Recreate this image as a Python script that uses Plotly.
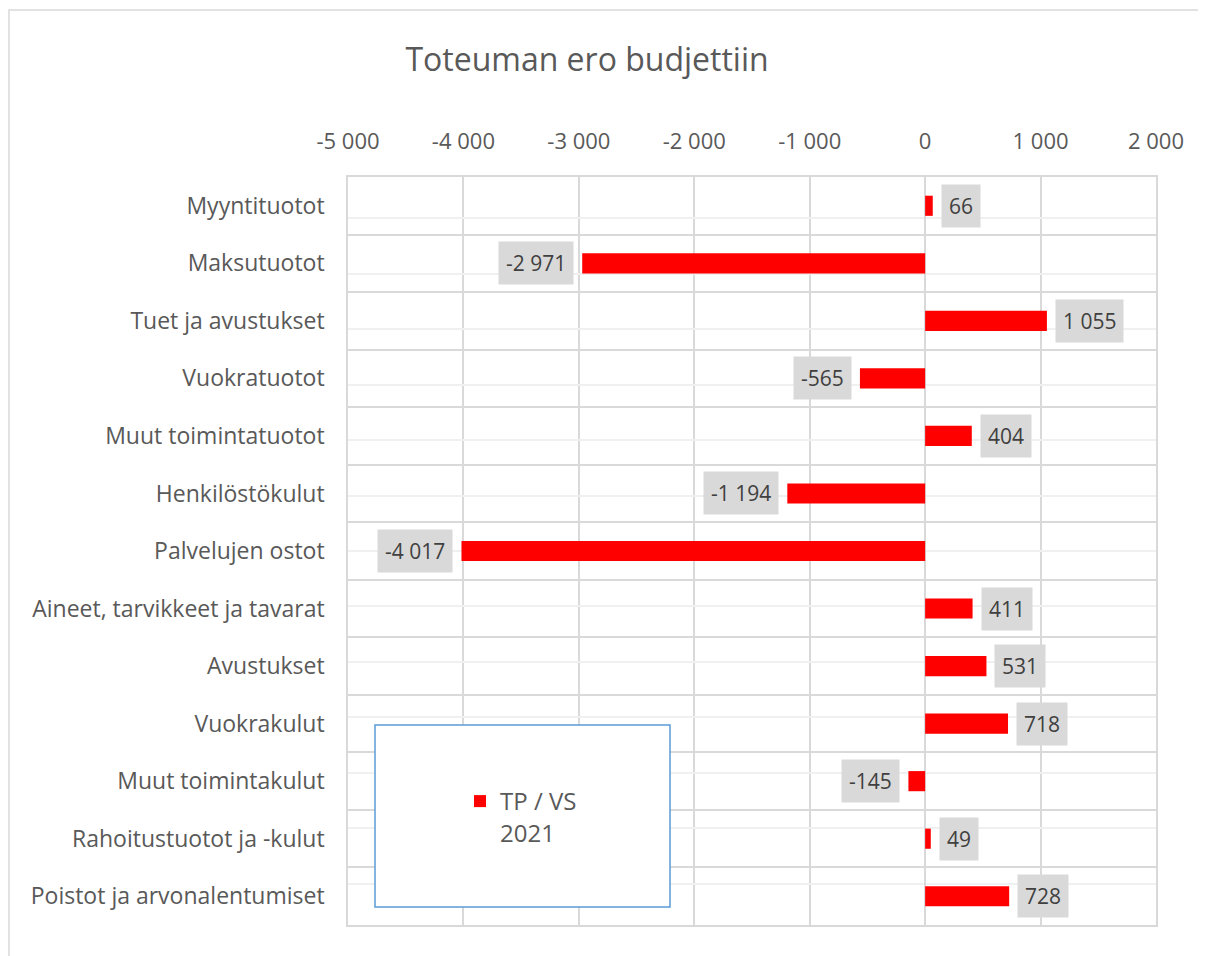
import plotly.graph_objects as go

# ── data ───────────────────────────────────────────────────────────
categories = [
    "Myyntituotot", "Maksutuotot", "Tuet ja avustukset", "Vuokratuotot",
    "Muut toimintatuotot", "Henkilöstökulut", "Palvelujen ostot",
    "Aineet, tarvikkeet ja tavarat", "Avustukset", "Vuokrakulut",
    "Muut toimintakulut", "Rahoitustuotot ja -kulut",
    "Poistot ja arvonalentumiset",
]
values = [66, -2971, 1055, -565, 404, -1194, -4017, 411, 531, 718, -145, 49, 728]
series_name = "TP / VS<br>2021"
tick_vals = [-5000, -4000, -3000, -2000, -1000, 0, 1000, 2000]
tick_text = ["-5 000", "-4 000", "-3 000", "-2 000", "-1 000", "0", "1 000", "2 000"]

# ── style ──────────────────────────────────────────────────────────
FONT = "'Open Sans', Lato, sans-serif"
GREY_TXT = "#595959"
GRID = "#D9D9D9"
OFF = 8                      # page body margin
W, H = 1206 - OFF, 956 - OFF
L, T = 348 - OFF, 177 - OFF
R, B = 1206 - 1156, 956 - 925
PW, PH = W - L - R, H - T - B


def px_x(x):   # page pixel -> paper
    return (x - OFF - L) / PW


def px_y(y):
    return (H - B - (y - OFF)) / PH


fig = go.Figure()
fig.add_trace(go.Bar(
    x=values, y=categories, orientation="h", name=series_name,
    marker=dict(color="#FF0000", line_width=0), width=0.35,
))
# invisible twin trace: gives the faint gridlines at category centres
fig.add_trace(go.Scatter(
    x=values, y=categories, yaxis="y2", mode="markers",
    marker=dict(opacity=0), showlegend=False, hoverinfo="skip",
))

# data labels in grey boxes
for cat, v in zip(categories, values):
    fig.add_annotation(
        x=v, y=cat, text=f"{v:,}".replace(",", " "), showarrow=False,
        xanchor="left" if v >= 0 else "right", xshift=8 if v >= 0 else -8,
        bgcolor="#D9D9D9", borderpad=7,
        font=dict(family=FONT, size=21, color="#404040"),
    )

# outer chart frame + legend box
fig.add_shape(type="rect", xref="paper", yref="paper",
              x0=px_x(9), x1=px_x(1230), y0=px_y(990), y1=px_y(10),
              line=dict(color=GRID, width=1.5), fillcolor="rgba(0,0,0,0)", layer="below")
fig.add_shape(type="rect", xref="paper", yref="paper",
              x0=px_x(375), x1=px_x(670), y0=px_y(907), y1=px_y(725),
              line=dict(color="#5B9BD5", width=1.5), fillcolor="white", layer="above")

fig.update_layout(
    width=W, height=H,
    margin=dict(l=L, r=R, t=T, b=B),
    paper_bgcolor="white", plot_bgcolor="white",
    font=dict(family=FONT, color=GREY_TXT),
    title=dict(text="Toteuman ero budjettiin", x=(587 - OFF) / W, xanchor="center",
               y=1 - (60 - OFF) / H, yanchor="middle",
               font=dict(family=FONT, size=32, color=GREY_TXT)),
    xaxis=dict(side="top", range=[-5000, 2000], tickvals=tick_vals, ticktext=tick_text,
               showgrid=True, gridcolor=GRID, gridwidth=1.5,
               zeroline=True, zerolinecolor=GRID, zerolinewidth=1.5,
               showline=True, linecolor=GRID, linewidth=1.5, mirror=True,
               ticks="", ticklabelstandoff=17,
               tickfont=dict(family=FONT, size=22, color=GREY_TXT)),
    yaxis=dict(type="category", categoryorder="array", categoryarray=categories,
               autorange="reversed", tickson="boundaries",
               showgrid=True, gridcolor=GRID, gridwidth=1.5,
               showline=True, linecolor=GRID, linewidth=1.5, mirror=True,
               ticks="", ticklabelstandoff=17,
               tickfont=dict(family=FONT, size=23, color=GREY_TXT)),
    yaxis2=dict(type="category", categoryorder="array", categoryarray=categories,
                overlaying="y", autorange="reversed", showticklabels=False,
                showgrid=True, gridcolor="#F0F0F0", gridwidth=1.5, ticks=""),
    showlegend=True,
    legend=dict(x=px_x(460), y=px_y(779), xanchor="left", yanchor="top",
                bgcolor="rgba(0,0,0,0)", valign="top",
                font=dict(family=FONT, size=24, color=GREY_TXT)),
    bargap=0.65,
)

fig.write_html("out.html")
